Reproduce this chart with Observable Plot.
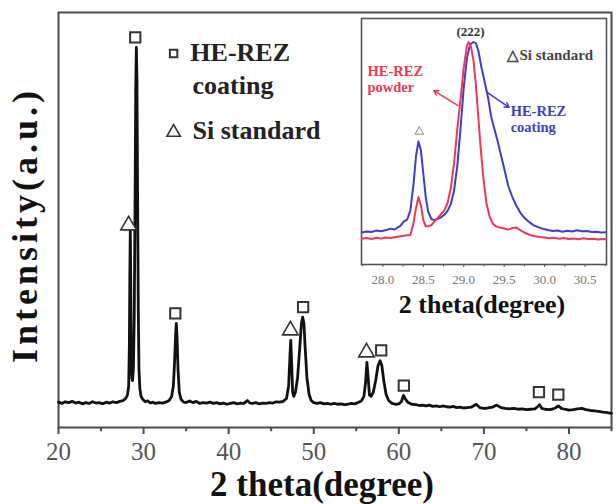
<!DOCTYPE html>
<html><head><meta charset="utf-8">
<script src="https://cdn.jsdelivr.net/npm/d3@7"></script>
<script src="https://cdn.jsdelivr.net/npm/@observablehq/plot@0.6"></script>
<style>
body{margin:0;background:#fff;}
#wrap{position:relative;width:616px;height:504px;overflow:hidden;background:#fff;}
#wrap svg{position:absolute;}
</style></head><body><div id="wrap"></div>
<script>
// ---- Main XRD pattern (HE-REZ coating) ----
const mainX = [20.0,20.4,20.8,21.2,21.6,22.0,22.4,22.8,23.2,23.6,24.0,24.4,24.8,25.2,25.6,26.0,26.4,26.8,27.2,27.6,27.9,28.1,28.25,28.33,28.39,28.44,28.49,28.55,28.62,28.70,28.80,28.90,29.00,29.08,29.15,29.22,29.30,29.38,29.46,29.56,29.70,29.90,30.2,30.5,30.8,31.1,31.4,31.8,32.2,32.6,33.0,33.3,33.5,33.65,33.78,33.85,33.93,34.05,34.2,34.4,34.7,35.0,35.4,35.8,36.2,36.6,37.0,37.4,37.8,38.2,38.6,39.0,39.4,39.8,40.2,40.6,41.0,41.4,41.8,42.2,42.5,42.8,43.2,43.6,44.0,44.4,44.8,45.2,45.6,46.0,46.4,46.8,47.05,47.2,47.3,47.4,47.52,47.65,47.85,48.1,48.35,48.55,48.7,48.85,49.0,49.2,49.45,49.7,50.0,50.4,50.8,51.2,51.6,52.0,52.4,52.8,53.2,53.6,54.0,54.4,54.8,55.2,55.6,55.9,56.1,56.25,56.4,56.55,56.75,57.0,57.3,57.55,57.8,58.0,58.25,58.5,58.8,59.2,59.6,60.0,60.3,60.55,60.8,61.1,61.5,62.0,62.4,62.8,63.2,63.6,64.0,64.4,64.8,65.2,65.6,66.0,66.4,66.8,67.2,67.6,68.0,68.5,69.1,69.5,70.0,70.5,71.0,71.5,72.0,72.5,73.0,73.5,74.0,74.5,75.0,75.5,76.0,76.3,76.55,76.8,77.2,77.6,78.0,78.4,78.75,79.1,79.5,80.0,80.5,81.0,81.5,82.0,82.5,83.0,83.5,84.0,84.5,85.0];
const mainY = [6.1,5.8,6.2,6.0,6.3,5.9,6.1,5.7,6.0,5.8,6.2,5.9,6.0,5.7,6.1,5.9,6.2,6.0,6.3,6.5,7.0,7.8,10.0,20.0,38.0,47.5,36.0,18.0,12.0,11.3,14.0,26.0,55.0,82.0,91.6,84.0,55.0,28.0,14.0,9.5,7.5,6.8,6.2,6.4,5.9,6.1,5.8,6.0,5.9,6.1,6.5,7.5,10.0,16.0,23.0,25.1,22.0,14.0,8.5,6.8,6.1,6.0,6.4,6.0,6.3,5.8,6.0,5.9,6.1,5.8,6.0,5.7,5.9,5.6,5.8,6.0,5.7,5.9,5.8,6.5,5.9,5.8,6.0,5.7,5.9,5.8,6.0,5.9,6.2,6.1,6.3,7.0,10.0,17.0,21.0,16.0,8.5,7.5,8.5,12.0,19.0,25.0,26.6,25.0,19.0,12.0,8.0,6.5,6.0,5.8,6.0,5.7,5.8,5.6,5.8,5.6,5.7,5.5,5.6,5.8,5.7,6.0,6.4,7.5,11.0,15.7,12.0,7.8,7.5,8.5,11.5,14.8,16.1,15.0,11.0,8.0,6.5,5.8,5.6,5.7,6.2,7.7,6.8,6.0,5.6,5.5,5.3,5.4,5.2,5.4,5.1,5.2,5.0,5.2,5.0,4.9,5.1,4.8,4.9,4.7,4.8,4.9,5.6,4.8,4.6,4.7,4.9,5.4,4.8,4.6,4.5,4.6,4.4,4.5,4.3,4.4,4.5,5.0,5.5,4.6,4.4,4.3,4.4,4.7,5.2,4.6,4.4,4.2,4.3,4.5,4.6,4.3,4.1,4.0,3.9,3.7,3.6,3.4];

// peak markers
const squareX = [29.02,33.73,48.75,57.93,60.59,76.47,78.75];
const squareY = [94.0,27.5,29.0,18.6,10.1,8.5,7.9];
const triangleX = [28.24,47.26,56.2];
const triangleY = [48.7,23.4,18.1];

const mainTicks = [20,30,40,50,60,70,80];
const mainMinorTicks = [25,35,45,55,65,75,85];

// ---- Inset: (222) region ----
const coatingX = [27.74,27.80,27.86,27.92,27.98,28.04,28.10,28.14,28.18,28.22,28.26,28.30,28.34,28.38,28.41,28.44,28.47,28.50,28.53,28.56,28.60,28.64,28.68,28.72,28.76,28.80,28.84,28.88,28.92,28.96,29.00,29.04,29.08,29.12,29.15,29.18,29.22,29.26,29.30,29.34,29.38,29.42,29.46,29.50,29.55,29.60,29.65,29.70,29.75,29.80,29.86,29.92,29.98,30.04,30.10,30.16,30.22,30.28,30.34,30.40,30.46,30.52,30.58,30.64,30.70,30.76];
const coatingY = [13.0,13.4,13.2,13.8,13.5,14.0,14.6,14.2,15.0,15.8,17.5,18.2,22.0,33.0,44.0,50.0,46.5,37.0,27.5,21.5,18.5,18.0,18.6,19.2,20.2,21.8,24.5,30.0,40.0,55.0,72.0,84.0,89.5,90.4,90.0,87.0,80.0,74.0,68.0,60.0,55.0,50.0,44.5,39.0,32.0,27.5,24.0,21.0,19.0,17.5,16.0,15.2,14.5,14.0,13.6,13.8,13.3,13.7,13.4,13.9,13.5,13.6,13.2,13.3,13.0,13.1];
const powderX = [27.74,27.80,27.86,27.92,27.98,28.04,28.10,28.16,28.22,28.28,28.34,28.38,28.41,28.44,28.47,28.50,28.53,28.56,28.60,28.64,28.68,28.72,28.76,28.80,28.84,28.88,28.92,28.96,29.00,29.04,29.06,29.09,29.12,29.15,29.18,29.21,29.24,29.28,29.32,29.36,29.40,29.45,29.50,29.55,29.60,29.65,29.70,29.76,29.82,29.88,29.94,30.00,30.06,30.12,30.18,30.24,30.30,30.36,30.42,30.48,30.54,30.60,30.66,30.72,30.76];
const powderY = [10.5,10.8,10.4,10.9,10.6,11.0,10.8,11.2,11.5,11.8,12.0,17.0,23.0,27.4,24.0,18.0,15.5,15.5,16.0,17.5,19.0,20.5,22.0,25.0,31.0,41.0,55.0,67.0,80.0,89.0,90.4,88.5,83.0,73.0,60.0,47.0,36.0,25.0,19.5,16.5,15.5,15.0,14.6,14.2,14.8,15.0,14.0,12.8,12.0,11.5,11.2,11.0,10.7,10.9,10.5,10.8,10.4,10.6,10.3,10.7,10.4,10.5,10.2,10.4,10.3];
const insetTicks = [28.0,28.5,29.0,29.5,30.0,30.5];
const insetMinorTicks = [27.75,28.25,28.75,29.25,29.75,30.25,30.75];

const SERIF = "'Liberation Serif','Times New Roman',serif";
const main = mainX.map((x, i) => ({x, y: mainY[i]}));
const squares = squareX.map((x, i) => ({x, y: squareY[i]}));
const triangles = triangleX.map((x, i) => ({x, y: triangleY[i]}));
const coating = coatingX.map((x, i) => ({x, y: coatingY[i]}));
const powder = powderX.map((x, i) => ({x, y: powderY[i]}));

const mainPlot = Plot.plot({
  width: 616, height: 504,
  marginLeft: 58, marginRight: 5, marginTop: 12, marginBottom: 77,
  style: {fontFamily: SERIF, fontSize: "25px", color: "#555", background: "transparent"},
  x: {domain: [20, 85]},
  y: {domain: [0, 100], axis: null},
  marks: [
    Plot.frame({stroke: "#4a4a4a", strokeWidth: 2}),
    Plot.axisX({ticks: mainTicks, tickSize: 7, tickPadding: 8, tickFormat: d => d, label: null, stroke: "#4a4a4a", strokeWidth: 2, fill: "#555"}),
    Plot.ruleX(mainMinorTicks, {x: d => d, y1: 0, y2: -1, stroke: "#4a4a4a", strokeWidth: 2}),
    Plot.line(main, {x: "x", y: "y", stroke: "#111", strokeWidth: 2.8, strokeLinejoin: "round"}),
    Plot.dot(squares, {x: "x", y: "y", symbol: "square", r: 5.8, stroke: "#333", strokeWidth: 2, fill: "white"}),
    Plot.dot(triangles, {x: "x", y: "y", symbol: "triangle", r: 5.8, stroke: "#333", strokeWidth: 1.6, fill: "white"}),
    // legend
    Plot.dot([{x: 33.53, y: 90.1}], {x: "x", y: "y", symbol: "square", r: 4.2, stroke: "#333", strokeWidth: 2, fill: "white"}),
    Plot.dot([{x: 33.53, y: 71.1}], {x: "x", y: "y", symbol: "triangle", r: 5, stroke: "#333", strokeWidth: 1.6, fill: "white"}),
    Plot.text(["HE-REZ"], {x: 35.5, y: 90.4, text: d => d, textAnchor: "start", fontSize: 26, fontWeight: "bold", fill: "#222"}),
    Plot.text(["coating"], {x: 35.75, y: 82.3, text: d => d, textAnchor: "start", fontSize: 26, fontWeight: "bold", fill: "#222"}),
    Plot.text(["Si standard"], {x: 35.75, y: 71.6, text: d => d, textAnchor: "start", fontSize: 26, fontWeight: "bold", fill: "#222"}),
    // axis titles
    Plot.text(["2 theta(degree)"], {frameAnchor: "bottom", lineAnchor: "middle", dx: -13, dy: 57, text: d => d, fontSize: 35, fontWeight: "bold", fill: "#111"}),
    Plot.text(["Intensity(a.u.)"], {frameAnchor: "left", textAnchor: "middle", lineAnchor: "middle", dx: -33, dy: 5, rotate: -90, text: d => d, fontSize: 36, fontWeight: "bold", fill: "#111", className: "ylab"})
  ]
});
d3.select(mainPlot).selectAll(".ylab text").attr("letter-spacing", "4px");

const insetLeft = 340;
const insetPlot = Plot.plot({
  width: 271, height: 325,
  marginLeft: 21, marginRight: 5, marginTop: 18, marginBottom: 61,
  style: {fontFamily: SERIF, fontSize: "13px", color: "#777", background: "transparent"},
  x: {domain: [27.736, 30.765]},
  y: {domain: [0, 100], axis: null},
  marks: [
    Plot.frame({stroke: "#555", strokeWidth: 1.6, fill: "white"}),
    Plot.axisX({ticks: insetTicks, tickSize: 3, tickPadding: 7, tickFormat: d3.format(".1f"), label: null, stroke: "#555"}),
    Plot.ruleX(insetMinorTicks, {x: d => d, y1: 0, y2: -1, stroke: "#555"}),
    Plot.line(coating, {x: "x", y: "y", stroke: "#3d3fc8", strokeWidth: 2}),
    Plot.line(powder, {x: "x", y: "y", stroke: "#ee3a50", strokeWidth: 2}),
    Plot.dot([{x: 28.45, y: 54}], {x: "x", y: "y", symbol: "triangle", r: 3.2, stroke: "#888", strokeWidth: 1, fill: "white"}),
    Plot.text(["(222)"], {x: 29.085, y: 94.4, text: d => d, fontSize: 13, fontWeight: "bold", fill: "#333"}),
    Plot.text(["\u25B3Si standard"], {x: 29.54, y: 85, text: d => d, textAnchor: "start", fontSize: 15, fontWeight: "bold", fill: "#444"}),
    Plot.text(["HE-REZ"], {x: 27.81, y: 78.6, text: d => d, textAnchor: "start", fontSize: 14.5, fontWeight: "bold", fill: "#ee3a50"}),
    Plot.text(["powder"], {x: 27.81, y: 71.9, text: d => d, textAnchor: "start", fontSize: 14.5, fontWeight: "bold", fill: "#ee3a50"}),
    Plot.text(["HE-REZ"], {x: 29.58, y: 62.4, text: d => d, textAnchor: "start", fontSize: 14.5, fontWeight: "bold", fill: "#3d3fc8"}),
    Plot.text(["coating"], {x: 29.58, y: 55.6, text: d => d, textAnchor: "start", fontSize: 14.5, fontWeight: "bold", fill: "#3d3fc8"}),
    Plot.arrow([{x1: 28.93, y1: 64.6, x2: 28.63, y2: 70.7}], {x1: "x1", y1: "y1", x2: "x2", y2: "y2", stroke: "#ee3a50", strokeWidth: 1.5, headLength: 5}),
    Plot.arrow([{x1: 29.29, y1: 70.0, x2: 29.56, y2: 63.9}], {x1: "x1", y1: "y1", x2: "x2", y2: "y2", stroke: "#3d3fc8", strokeWidth: 1.5, headLength: 5}),
    Plot.text(["2 theta(degree)"], {frameAnchor: "bottom", lineAnchor: "middle", dx: -2, dy: 40, text: d => d, fontSize: 26, fontWeight: "bold", fill: "#111"})
  ]
});

const wrap = document.getElementById("wrap");
mainPlot.style.left = "0px"; mainPlot.style.top = "0px";
insetPlot.style.left = insetLeft + "px"; insetPlot.style.top = "0px";
wrap.appendChild(mainPlot);
wrap.appendChild(insetPlot);
</script>
</body></html>
